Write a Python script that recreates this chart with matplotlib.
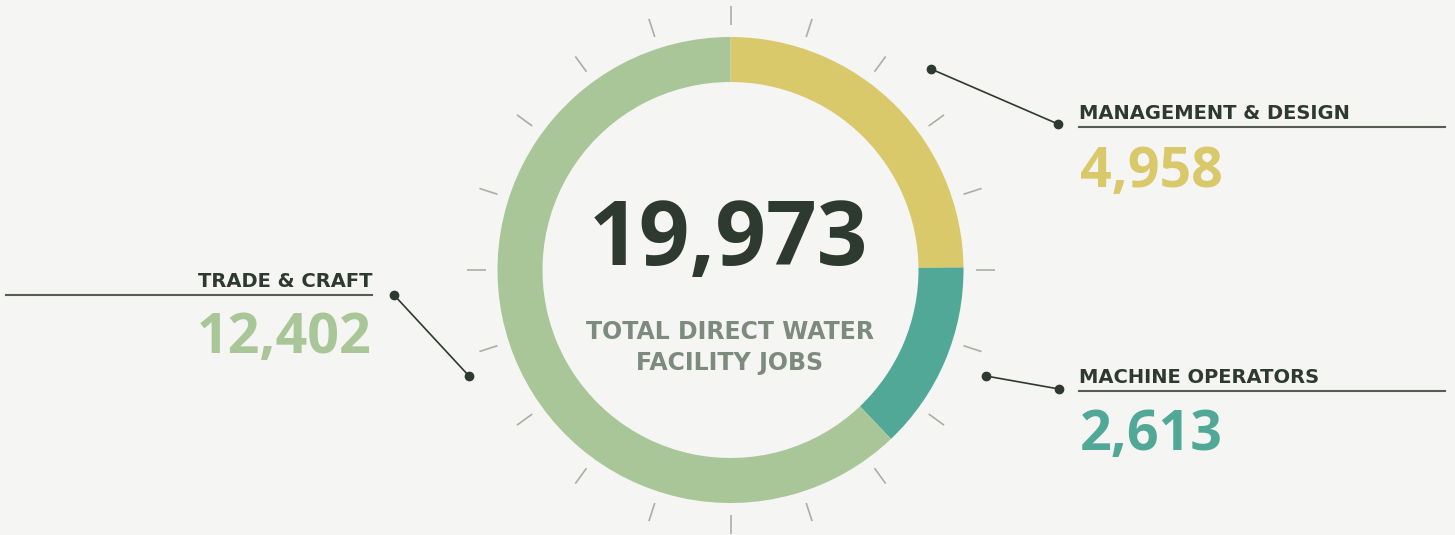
import numpy as np
import matplotlib
matplotlib.use("Agg")
import matplotlib.pyplot as plt

# data
categories = ["MANAGEMENT & DESIGN", "MACHINE OPERATORS", "TRADE & CRAFT"]
jobs = [4958, 2613, 12402]
colors = ["#d9c96a", "#52a896", "#a8c698"]
total_label = "TOTAL DIRECT WATER\nFACILITY JOBS"

W, H = 1455, 535
bg = "#f5f5f3"
dark = "#2e3a2f"
cx, cy, r_out, ring = 730.5, 270, 233, 45

fig = plt.figure(figsize=(W / 100, H / 100), dpi=100, facecolor=bg)
ax = fig.add_axes([0, 0, 1, 1])
ax.set_facecolor(bg)

# donut (y axis is inverted below, so counterclock=True draws clockwise on screen)
ax.pie(jobs, colors=colors, startangle=-90, counterclock=True,
       center=(cx, cy), radius=r_out,
       wedgeprops=dict(width=ring, linewidth=0))

ax.set_xlim(0, W)
ax.set_ylim(H, 0)
ax.set_aspect("equal")
ax.axis("off")

# tick marks around the ring
for a in np.deg2rad(np.arange(0, 360, 18)):
    r0, r1 = 245, 264
    ax.plot([cx + r0 * np.cos(a), cx + r1 * np.cos(a)],
            [cy - r0 * np.sin(a), cy - r1 * np.sin(a)],
            color="#a9afa6", lw=1.2, solid_capstyle="butt")

# centre text
total = sum(jobs)
ax.text(728, 265, f"{total:,}", fontsize=64, fontweight="bold",
        family="Open Sans", color=dark, ha="center", va="baseline")
ax.text(730, 339, total_label.split("\n")[0], fontsize=17, fontweight="bold",
        family="DejaVu Sans", color="#7d8a7e", ha="center", va="baseline")
ax.text(730, 370, total_label.split("\n")[1], fontsize=17, fontweight="bold",
        family="DejaVu Sans", color="#7d8a7e", ha="center", va="baseline")

# callouts: (label x, label baseline, underline y, line x0, x1, align, leader pts, number baseline)
callouts = [
    (1079, 119, 127, 1079, 1445, "left", [(931, 69), (1058, 124)], 187),
    (1079, 383, 391, 1079, 1445, "left", [(986, 376), (1059, 389)], 450),
    (372, 287, 295, 6, 372, "right", [(394, 295), (469, 376)], 353),
]

for name, val, col, (tx, ty, uy, ux0, ux1, ha, pts, ny) in zip(categories, jobs, colors, callouts):
    ax.text(tx, ty, name, fontsize=14, fontweight="bold", family="DejaVu Sans",
            color=dark, ha=ha, va="baseline")
    ax.plot([ux0, ux1], [uy, uy], color="#555d55", lw=1.5)
    ax.text(tx + (1 if ha == "left" else 0), ny, f"{val:,}", fontsize=40,
            fontweight="bold", family="Open Sans", color=col, ha=ha, va="baseline")
    xs, ys = zip(*pts)
    ax.plot(xs, ys, color=dark, lw=1.2, marker="o", markersize=6)

fig.savefig("out.png", dpi=100, facecolor=bg)
